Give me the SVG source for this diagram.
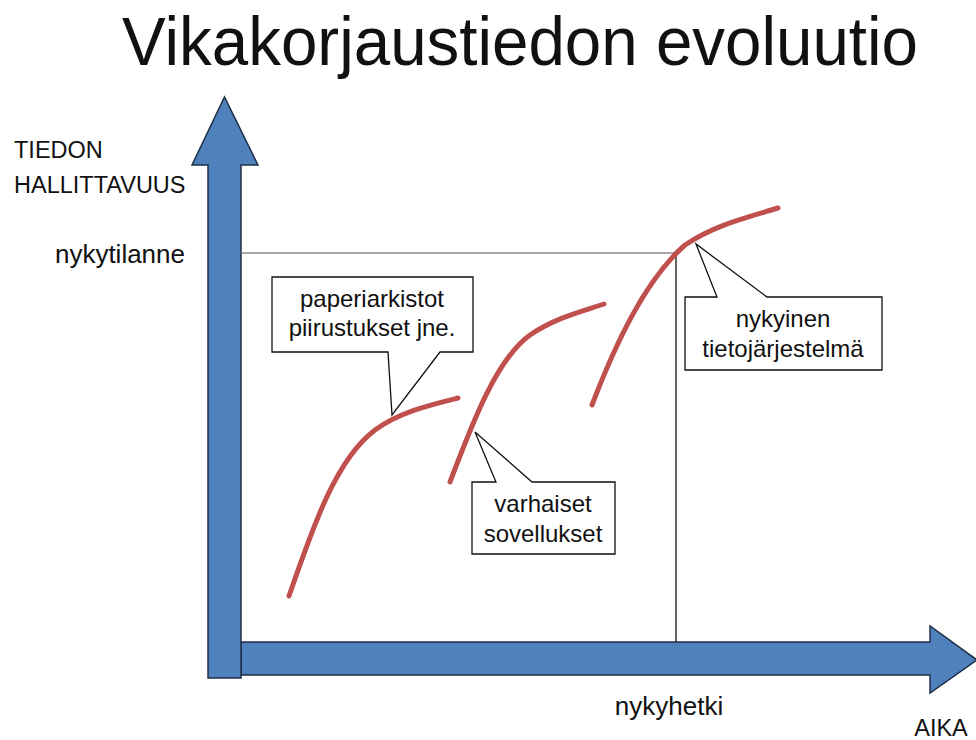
<svg xmlns="http://www.w3.org/2000/svg" width="976" height="740" viewBox="0 0 976 740">
<style>
text{font-family:"Liberation Sans",Arial,sans-serif;fill:#111}
.lbl{font-size:24px}
.big{font-size:26px}
.cap{font-size:23.5px}
.c{text-anchor:middle}
.axis{fill:#4f81bd;stroke:#1f2f45;stroke-width:1.5}
.curve{fill:none;stroke:#c0504d;stroke-width:5;stroke-linecap:round}
.call{fill:#fff;stroke:#111;stroke-width:1.3;stroke-linejoin:miter}
</style>
<rect width="976" height="740" fill="#fff"/>
<text x="520" y="65" class="c" font-size="68" textLength="796" lengthAdjust="spacingAndGlyphs">Vikakorjaustiedon evoluutio</text>

<g id="axes">
<polygon class="axis" points="241,642 930,642 930,626 977,660 930,693 930,675 241,675"/>
<polygon class="axis" points="208,678 208,165 192,165 224.5,97 258,165 241,165 241,678"/>
</g>

<g id="connectors">
<line x1="241" y1="253" x2="676" y2="253" stroke="#888" stroke-width="1.3"/>
<line x1="676" y1="253" x2="676" y2="642" stroke="#111" stroke-width="1.3"/>
<path class="curve" d="M289,596 C312,530 335,460 375,430 C400,412 430,405 458,398"/>
<path class="curve" d="M450,482 C470,430 495,360 530,335 C555,318 580,312 604,304"/>
<path class="curve" d="M592,405 C615,345 645,280 685,245 C715,225 745,218 778,208"/>
</g>

<g id="labels">
<text x="14" y="158" class="cap">TIEDON</text>
<text x="14" y="193" class="cap">HALLITTAVUUS</text>
<text x="185" y="263" class="big" text-anchor="end">nykytilanne</text>
<text x="669" y="715" class="big c">nykyhetki</text>
<text x="941" y="736" class="cap c">AIKA</text>
</g>

<g id="callout1">
<path class="call" d="M272,277 H473 V352 H440 L392,415 L388,352 H272 Z"/>
<text x="372" y="307" class="lbl c">paperiarkistot</text>
<text x="372" y="336" class="lbl c">piirustukset jne.</text>
</g>

<g id="callout2">
<path class="call" d="M472,482 H496 L475,432 L532,482 H615 V554 H472 Z"/>
<text x="543" y="512" class="lbl c">varhaiset</text>
<text x="543" y="542" class="lbl c">sovellukset</text>
</g>

<g id="callout3">
<path class="call" d="M685,297 H717 L696,244 L767,297 H882 V370 H685 Z"/>
<text x="783" y="327" class="lbl c">nykyinen</text>
<text x="783" y="357" class="lbl c">tietojärjestelmä</text>
</g>
</svg>
